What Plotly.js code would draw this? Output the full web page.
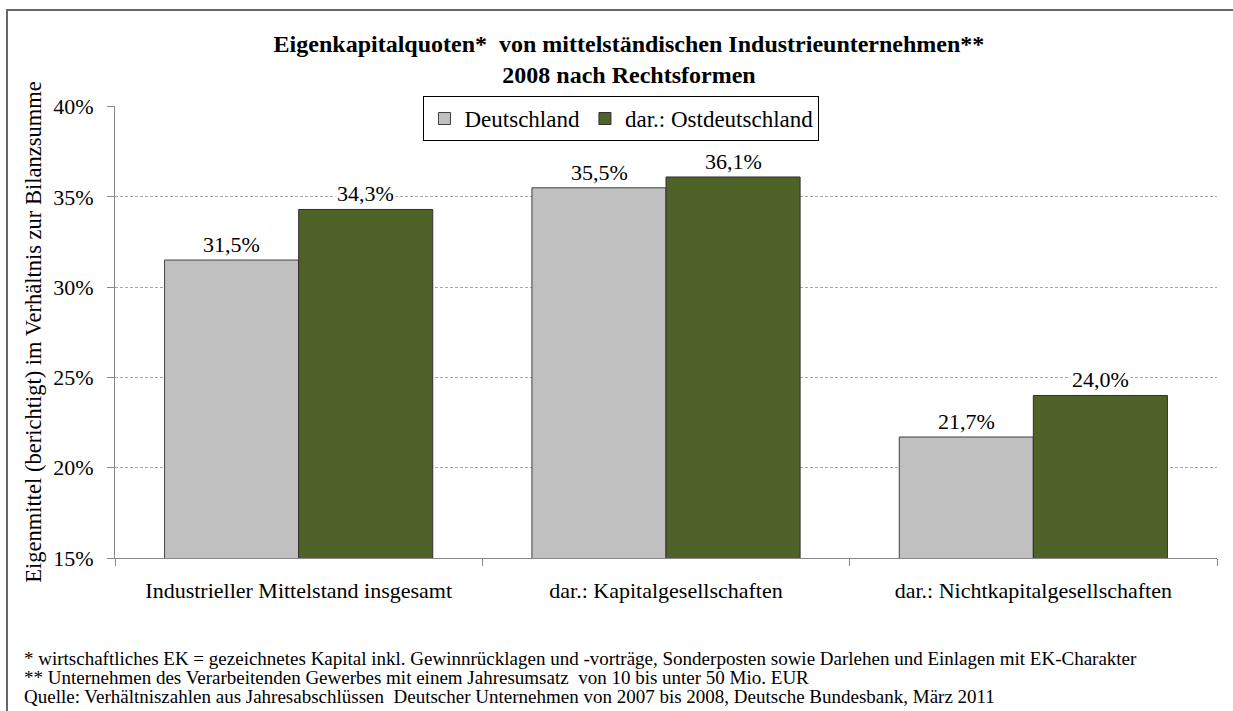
<!DOCTYPE html>
<html><head><meta charset="utf-8">
<script src="https://cdn.plot.ly/plotly-3.0.1.min.js"></script>
<style>
html,body{margin:0;padding:0;background:#fff;}
#wrap{position:relative;width:1233px;height:711px;overflow:hidden;}
#chart{width:1233px;height:711px;}
#frame{position:absolute;left:6px;top:9px;width:1300px;height:800px;border:2px solid #666;pointer-events:none;box-sizing:border-box;}
</style></head>
<body><div id="wrap"><div id="chart"></div><div id="frame"></div></div>
<script>
const categories = ['Industrieller Mittelstand insgesamt', 'dar.: Kapitalgesellschaften', 'dar.: Nichtkapitalgesellschaften'];
const seriesNames = ['Deutschland', 'dar.: Ostdeutschland'];
const deutschland = [31.5, 35.5, 21.7];
const ostdeutschland = [34.3, 36.1, 24.0];
const yTicks = [15, 20, 25, 30, 35, 40];
const titleLines = ['Eigenkapitalquoten*  von mittelständischen Industrieunternehmen**', '2008 nach Rechtsformen'];
const footnotes = [
  '* wirtschaftliches EK = gezeichnetes Kapital inkl. Gewinnrücklagen und -vorträge, Sonderposten sowie Darlehen und Einlagen mit EK-Charakter',
  '** Unternehmen des Verarbeitenden Gewerbes mit einem Jahresumsatz  von 10 bis unter 50 Mio. EUR',
  'Quelle: Verhältniszahlen aus Jahresabschlüssen  Deutscher Unternehmen von 2007 bis 2008, Deutsche Bundesbank, März 2011'
];

const serif = '"Liberation Serif", "Times New Roman", Times, serif';
const fmt = v => v.toFixed(1).replace('.', ',') + '%';

const traces = [
  {type:'bar', name:seriesNames[0], x:categories, y:deutschland,
   marker:{color:'#C0C0C0', line:{color:'#404040', width:1}}, hoverinfo:'skip'},
  {type:'bar', name:seriesNames[1], x:categories, y:ostdeutschland,
   marker:{color:'#4F6228', line:{color:'#303030', width:1}}, hoverinfo:'skip'}
];

const annotations = [];
[deutschland, ostdeutschland].forEach((arr, si) => {
  arr.forEach((v, i) => {
    annotations.push({x:categories[i], y:v, xref:'x', yref:'y', text:fmt(v), showarrow:false,
      yanchor:'bottom', yshift:1, xshift: si === 0 ? -67 : 67,
      bgcolor:'#ffffff', borderpad:1, font:{family:serif, size:22, color:'#000'}});
  });
});
footnotes.forEach((t, i) => {
  annotations.push({xref:'paper', yref:'paper', x:(22-115)/1102, y:-(100+i*19)/452, xanchor:'left', yanchor:'middle',
    text:t, showarrow:false, font:{family:serif, size:19, color:'#000'}});
});

const layout = {
  width:1233, height:711,
  margin:{l:115, r:16, t:106, b:153},
  paper_bgcolor:'#ffffff', plot_bgcolor:'#ffffff',
  title:{text:'<b>'+titleLines[0]+'<br>'+titleLines[1]+'</b>',
    font:{family:serif, size:24, color:'#000'}, x:629/1233, xanchor:'center', yref:'container', y:1-52/711, yanchor:'middle'},
  barmode:'group', bargap:0.27, bargroupgap:0,
  showlegend:true,
  legend:{orientation:'h', x:0.4596, xanchor:'center', y:1.022, yanchor:'top',
    bordercolor:'#000', borderwidth:1, bgcolor:'#fff', font:{family:serif, size:23, color:'#000'},
    itemwidth:30, traceorder:'normal'},
  xaxis:{type:'category', showline:true, linecolor:'#888', linewidth:1,
    ticks:'outside', ticklen:7, tickcolor:'#888', tickson:'boundaries', ticklabelstandoff:13,
    tickfont:{family:serif, size:22, color:'#000'}, showgrid:false},
  yaxis:{range:[15,40.03], tickvals:yTicks, ticktext:yTicks.map(v=>v+'%'),
    showline:true, linecolor:'#888', linewidth:1, ticks:'outside', ticklen:7, tickcolor:'#888', ticklabelstandoff:9,
    showgrid:true, gridcolor:'#a6a6a6', griddash:'3px,2px', gridwidth:1, zeroline:false,
    tickfont:{family:serif, size:22, color:'#000'},
    title:{text:'Eigenmittel (berichtigt) im Verhältnis zur Bilanzsumme', standoff:5,
      font:{family:serif, size:22.5, color:'#000'}}},
  annotations:annotations
};
Plotly.newPlot('chart', traces, layout, {displayModeBar:false, staticPlot:true});
</script></body></html>
